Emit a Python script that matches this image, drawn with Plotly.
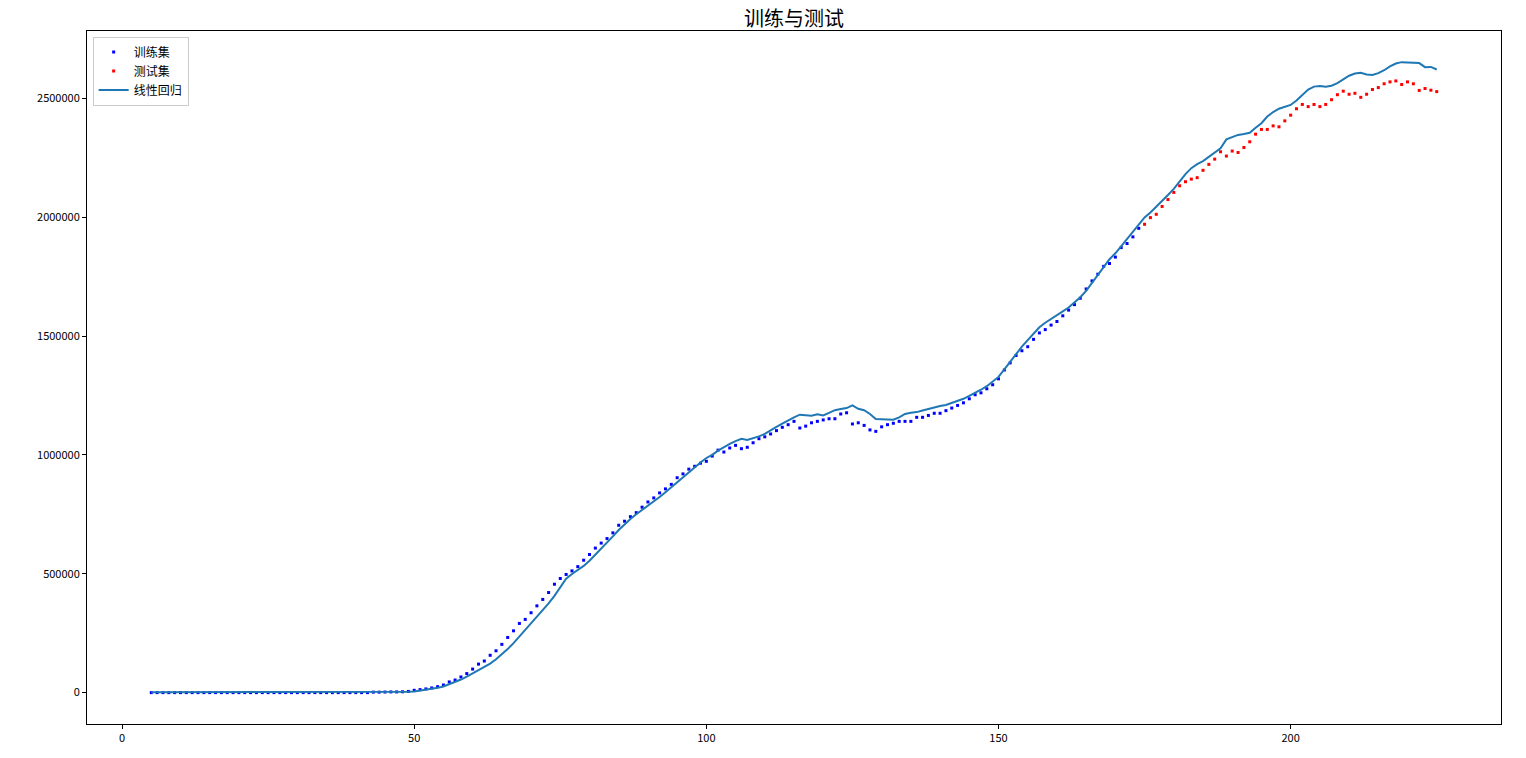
import plotly.graph_objects as go

# ---- data ----
train_x = list(range(5, 175))
train_y = (
    [0] * 38
    + [2000, 2000, 2500, 3000, 3000, 3500, 5000]
    + [9700, 12600, 15500, 19700, 25000, 32000, 45000, 53000, 66000, 80000,
       99000, 120000, 133000, 157000, 176000, 203000, 232000, 260000, 291000, 308000,
       336000, 365000, 392000, 421000, 456000, 480000, 497000, 512000, 530000, 557000,
       581000, 608000, 629000, 648000, 672000, 704000, 721000, 740000, 757000, 780000,
       802000, 819000, 840000, 857000, 876000, 904000, 920000, 940000, 952000, 965000,
       973000]
    + [995000, 1020000, 1012000, 1029000, 1040000, 1026000, 1032000, 1051000, 1068000, 1076000,
       1088000, 1102000, 1116000, 1127000, 1141000, 1113000, 1121000, 1135000, 1141000, 1147000,
       1152000, 1152000, 1172000, 1177000, 1130000, 1135000, 1124000, 1105000, 1099000, 1118000,
       1127000, 1133000, 1141000, 1141000, 1141000, 1158000, 1158000, 1166000, 1175000, 1175000,
       1186000, 1197000, 1208000, 1219000, 1236000, 1253000, 1261000, 1278000, 1295000]
    + [1320000, 1357000, 1387000, 1418000, 1438000, 1455000, 1486000, 1513000, 1527000, 1546000,
       1561000, 1585000, 1609000, 1632000, 1659000, 1698000, 1732000, 1760000, 1793000, 1805000,
       1832000, 1872000, 1889000, 1917000, 1953000]
)

test_x = list(range(175, 226))
test_y = [1970000, 1998000, 2012000, 2045000, 2074000, 2104000, 2132000, 2149000, 2160000, 2166000,
          2197000, 2222000, 2244000, 2275000, 2257000, 2278000, 2272000, 2293000, 2317000, 2349000,
          2369000, 2369000, 2384000, 2380000, 2405000, 2429000, 2456000, 2474000, 2465000, 2474000,
          2465000, 2474000, 2494000, 2515000, 2530000, 2517000, 2521000, 2504000, 2517000, 2537000,
          2545000, 2561000, 2569000, 2573000, 2558000, 2569000, 2561000, 2533000, 2541000, 2534000,
          2528000]

pred_x = list(range(5, 226))
pred_y = (
    [1500] * 40
    + [2000, 2500, 3000, 3500, 4000]
    + [5000, 8000, 11000, 15000, 20000, 26000, 35000, 45000, 55000, 67000,
       80000, 93000, 108000, 122000, 140000, 160000, 183000, 208000, 236000, 263000,
       290000, 317000, 344000, 375000, 407000, 445000, 479000, 499000, 515000, 533000,
       555000, 580000, 604000, 630000, 657000, 684000, 708000, 730000, 750000, 768000,
       786000, 803000, 823000, 843000, 864000, 886000, 908000, 930000, 950000, 968000,
       987000]
    + [1000000, 1018000, 1033000, 1046000, 1058000, 1068000, 1063000, 1070000, 1078000, 1088000,
       1104000, 1118000, 1131000, 1145000, 1158000, 1169000, 1166000, 1165000, 1171000, 1166000,
       1177000, 1188000, 1193000, 1197000, 1208000, 1194000, 1188000, 1172000, 1151000, 1150000,
       1148000, 1148000, 1158000, 1172000, 1177000, 1180000, 1187000, 1194000, 1200000, 1206000,
       1210000, 1218000, 1226000, 1236000, 1248000, 1260000, 1274000, 1289000, 1310000, 1328000]
    + [1360000, 1392000, 1426000, 1455000, 1483000, 1511000, 1537000, 1556000, 1573000, 1590000,
       1604000, 1620000, 1640000, 1663000, 1690000, 1723000, 1758000, 1793000, 1823000, 1848000,
       1879000, 1908000, 1936000, 1972000, 1999000, 2020000, 2043000, 2066000, 2093000, 2119000,
       2150000, 2181000, 2206000, 2223000, 2236000, 2253000, 2270000, 2290000, 2327000, 2337000]
    + [2346000, 2350000, 2355000, 2376000, 2395000, 2423000, 2442000, 2456000, 2464000, 2472000,
       2491000, 2515000, 2537000, 2549000, 2552000, 2549000, 2553000, 2564000, 2580000, 2595000,
       2604000, 2607000, 2600000, 2598000, 2606000, 2618000, 2634000, 2646000, 2652000, 2650000,
       2651000, 2648000, 2631000, 2632000, 2621000]
)

x_ticks = [0, 50, 100, 150, 200]
y_ticks = [0, 500000, 1000000, 1500000, 2000000, 2500000]

FONT = "Noto Sans CJK SC"

fig = go.Figure()
fig.add_trace(go.Scatter(x=train_x, y=train_y, mode="markers", name="训练集",
                         marker=dict(color="blue", size=3, symbol="square")))
fig.add_trace(go.Scatter(x=test_x, y=test_y, mode="markers", name="测试集",
                         marker=dict(color="red", size=3, symbol="square")))
fig.add_trace(go.Scatter(x=pred_x, y=pred_y, mode="lines", name="线性回归",
                         line=dict(color="#1f77b4", width=2)))

axis_common = dict(showgrid=False, zeroline=False, showline=True, linecolor="black",
                   linewidth=1, mirror=True, ticks="outside", ticklen=4, automargin=False,
                   tickcolor="black", tickfont=dict(family=FONT, size=11, color="black"))

W, H = 1510, 742
fig.update_layout(
    width=W, height=H,
    margin=dict(l=79, r=17, t=23, b=26, autoexpand=False),
    paper_bgcolor="white", plot_bgcolor="white",
    font=dict(family=FONT, color="black"),
    title=dict(text="训练与测试", x=0.5, xref="paper", xanchor="center",
               y=1 - 11 / H, yref="container", yanchor="middle",
               font=dict(family=FONT, size=20, color="black")),
    xaxis=dict(range=[-6, 236], tickvals=x_ticks, **axis_common),
    yaxis=dict(range=[-132000, 2783000], tickvals=y_ticks, tickformat="d", **axis_common),
    legend=dict(x=0.004, y=0.992, xanchor="left", yanchor="top",
                bgcolor="rgba(255,255,255,0.8)", bordercolor="#cccccc", borderwidth=1,
                font=dict(family=FONT, size=12, color="black"),
                itemwidth=30, tracegroupgap=0),
    showlegend=True,
)

fig.write_html("out.html")
